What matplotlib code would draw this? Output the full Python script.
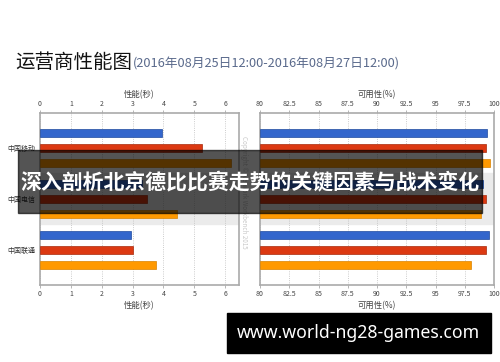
import numpy as np
import matplotlib
matplotlib.use('Agg')
import matplotlib.pyplot as plt
from matplotlib.patches import Rectangle

plt.rcParams['font.family'] = ['Noto Sans CJK SC', 'DejaVu Sans']

# ---------------------------------------------------------------- data
carriers = ['中国移动', '中国电信', '中国联通']
perf_blue = [3.96, 3.30, 2.95]
perf_red = [5.25, 3.47, 3.03]
perf_orange = [6.19, 4.44, 3.76]
avail_blue = [99.38, 99.10, 99.60]
avail_red = [99.35, 99.35, 99.33]
avail_orange = [99.67, 98.90, 98.07]
perf_ticks = [0, 1, 2, 3, 4, 5, 6]
avail_ticks = [80, 82.5, 85, 87.5, 90, 92.5, 95, 97.5, 100]
avail_ticklabels = ['80', '82.5', '85', '87.5', '90', '92.5', '95', '97.5', '100']

colors = ['#3366cc', '#dc3912', '#ff9900']
edges = ['#1f4a9e', '#a82a0c', '#d98200']

W, H = 500, 362
fig = plt.figure(figsize=(5, 3.62), dpi=100)


def box(x0, y0, x1, y1):
    # pixel box -> figure fraction
    return [x0 / W, 1 - y1 / H, (x1 - x0) / W, (y1 - y0) / H]


def panel(ax, series, xlim, ticks, ticklabels, label, ylabels):
    y = np.arange(len(carriers))
    off = [-0.294, 0, 0.294]
    ax.axhspan(0.5, 1.5, color='#ebebeb', zorder=0)
    for i, vals in enumerate(series):
        ax.barh(y + off[i], np.array(vals) - xlim[0], left=xlim[0], height=0.16,
                color=colors[i], edgecolor=edges[i], linewidth=0.5, zorder=3)
    ax.set_xlim(xlim)
    ax.set_ylim(2.69, -0.68)
    ax.set_xticks(ticks)
    ax.set_xticklabels(ticklabels)
    ax.tick_params(axis='x', top=True, labeltop=True, labelsize=5, length=2,
                   width=0.5, color='#999999', labelcolor='#444444', pad=1.5)
    ax.grid(axis='x', linestyle=':', color='#bbbbbb', linewidth=0.6, zorder=1)
    ax.set_yticks(y)
    if ylabels:
        ax.set_yticklabels(carriers, fontsize=5, color='#333333')
    else:
        ax.set_yticklabels([])
    ax.tick_params(axis='y', length=0, pad=3)
    for s in ax.spines.values():
        s.set_color('#aaaaaa')
        s.set_linewidth(1.2)
    ax.set_xlabel(label, fontsize=6, color='#444444', labelpad=2)
    # label above the top tick labels
    ax.text(0.5, 1.0, label, transform=ax.transAxes, fontsize=6,
            color='#444444', ha='center', va='bottom')


ax1 = fig.add_axes(box(40, 113, 239, 285))
panel(ax1, [perf_blue, perf_red, perf_orange], (0, 6.45), perf_ticks,
      [str(t) for t in perf_ticks], '性能(秒)', True)
ax2 = fig.add_axes(box(260, 113, 494, 285))
panel(ax2, [avail_blue, avail_red, avail_orange], (80, 100), avail_ticks,
      avail_ticklabels, '可用性(%)', False)
for ax in (ax1, ax2):
    ax.texts[-1].set_position((0.5, 1.0 + 14 / 172))

fig.text(244 / W, 1 - 192 / H, 'Copyright © Network Workbench 2015', rotation=-90,
         fontsize=4.5, color='#c8c8c8', ha='center', va='center', zorder=1)

# title
fig.text(15 / W, 1 - 63 / H, '运营商性能图', fontsize=14, color='#111111',
         ha='left', va='center')
fig.text(133 / W, 1 - 64 / H, '(2016年08月25日12:00-2016年08月27日12:00)',
         fontsize=9.2, color='#5a6a8c', ha='left', va='center')

# overlay banner
fig.patches.append(Rectangle((18 / W, 1 - 213 / H), 464 / W, 63 / H,
                             transform=fig.transFigure, color='black',
                             alpha=0.67, zorder=10))
fig.text(250 / W, 1 - 182 / H, '深入剖析北京德比比赛走势的关键因素与战术变化',
         fontsize=15, fontweight='bold', color='white', ha='center',
         va='center', zorder=11)

fig.patches.append(Rectangle((227 / W, 1 - 353 / H), 264 / W, 40 / H,
                             transform=fig.transFigure, color='black', zorder=10))
fig.text(358 / W, 1 - 333 / H, 'www.world-ng28-games.com', fontsize=12.7,
         fontweight='bold', color='white', ha='center', va='center',
         family=['Noto Sans', 'DejaVu Sans'], zorder=11)

fig.savefig('out.png', dpi=100)
